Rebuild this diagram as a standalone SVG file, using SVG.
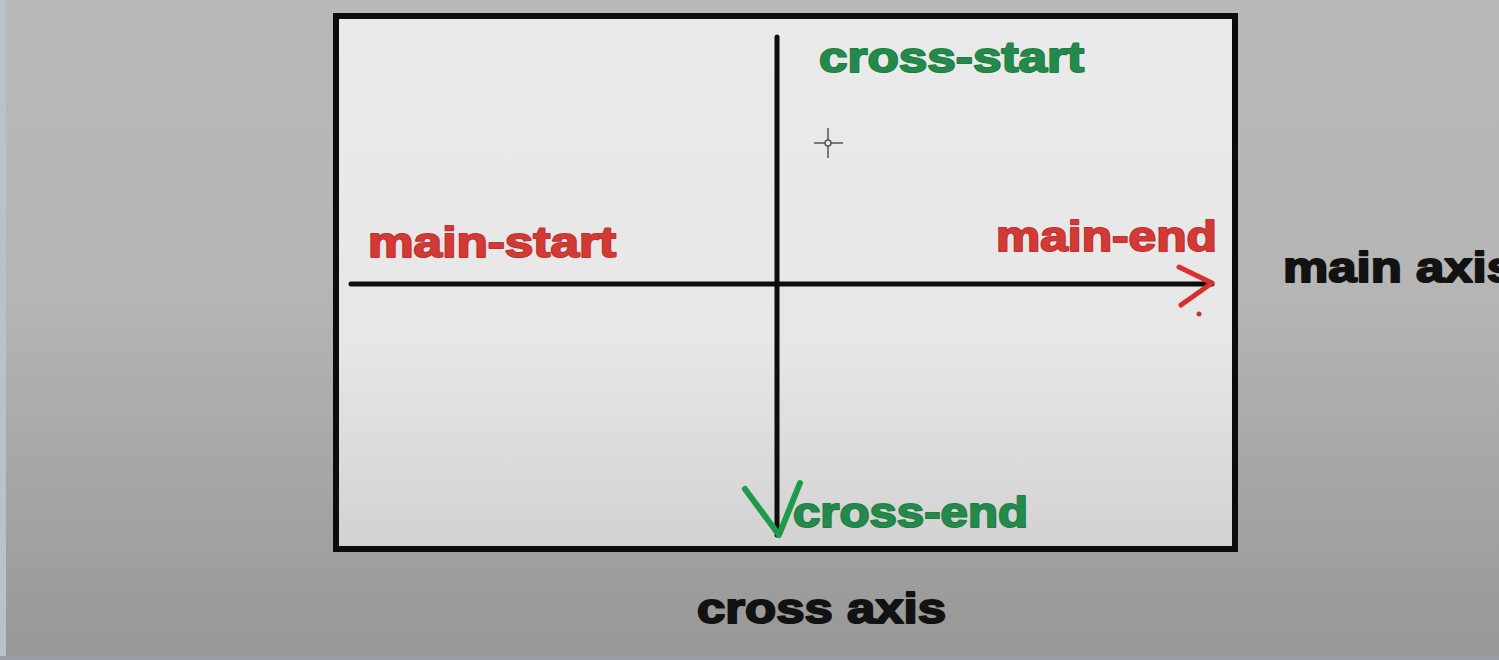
<svg xmlns="http://www.w3.org/2000/svg" width="1499" height="660" viewBox="0 0 1499 660">
<defs>
<linearGradient id="bg" x1="0" y1="0" x2="0" y2="1">
<stop offset="0" stop-color="#b9b9b9"/>
<stop offset="0.45" stop-color="#b5b5b5"/>
<stop offset="1" stop-color="#979797"/>
</linearGradient>
<linearGradient id="panel" x1="0" y1="0" x2="0" y2="1">
<stop offset="0" stop-color="#eaeaea"/>
<stop offset="0.6" stop-color="#e7e7e7"/>
<stop offset="1" stop-color="#d2d2d2"/>
</linearGradient>
<style>
.t{font-family:"Liberation Sans",Arial,sans-serif;font-weight:bold;font-size:43px;stroke-width:2;paint-order:stroke;stroke-linejoin:round}
.red{fill:#d23a36;stroke:#c0302e}
.green{fill:#238a4c;stroke:#1f7d44}
.black{fill:#121212;stroke:#121212}
.axis{stroke:#0d0d0d;stroke-width:5;stroke-linecap:round;fill:none}
</style>
</defs>
<rect x="0" y="0" width="1499" height="660" fill="url(#bg)"/>
<rect x="0" y="0" width="6" height="660" fill="#bcc0cc"/>
<rect x="0" y="656" width="1499" height="4" fill="#9a9ca6"/>
<g id="frame">
<rect x="336" y="16" width="899" height="533" fill="url(#panel)" stroke="#0c0c0c" stroke-width="6"/>
</g>
<g id="connectors">
<line class="axis" x1="351" y1="284" x2="1212" y2="284"/>
<line class="axis" x1="777" y1="37" x2="777" y2="535"/>
<path d="M1179 267 L1212 283 L1181 305" fill="none" stroke="#d8302e" stroke-width="5" stroke-linecap="round" stroke-linejoin="round"/>
<circle cx="1199" cy="314" r="2.5" fill="#c83030"/>
<path d="M745 489 L779 535 L800 483" fill="none" stroke="#1f9a4a" stroke-width="6" stroke-linecap="round" stroke-linejoin="round"/>
</g>
<g id="cursor" stroke="#555" stroke-width="1.5" fill="none">
<line x1="828" y1="128" x2="828" y2="158"/>
<line x1="814" y1="143" x2="843" y2="143"/>
<circle cx="828" cy="143" r="3" fill="#eaeaea"/>
</g>
<g id="cross-start"><text class="t green" x="819" y="72" textLength="265" lengthAdjust="spacingAndGlyphs">cross-start</text></g>
<g id="main-start"><text class="t red" x="368" y="257" textLength="248" lengthAdjust="spacingAndGlyphs">main-start</text></g>
<g id="main-end"><text class="t red" x="996" y="251" textLength="221" lengthAdjust="spacingAndGlyphs">main-end</text></g>
<g id="cross-end"><text class="t green" x="793" y="527" textLength="235" lengthAdjust="spacingAndGlyphs">cross-end</text></g>
<g id="main-axis"><text class="t black" x="1283" y="282" textLength="232" lengthAdjust="spacingAndGlyphs">main axis</text></g>
<g id="cross-axis"><text class="t black" x="697" y="623" textLength="249" lengthAdjust="spacingAndGlyphs">cross axis</text></g>
</svg>
